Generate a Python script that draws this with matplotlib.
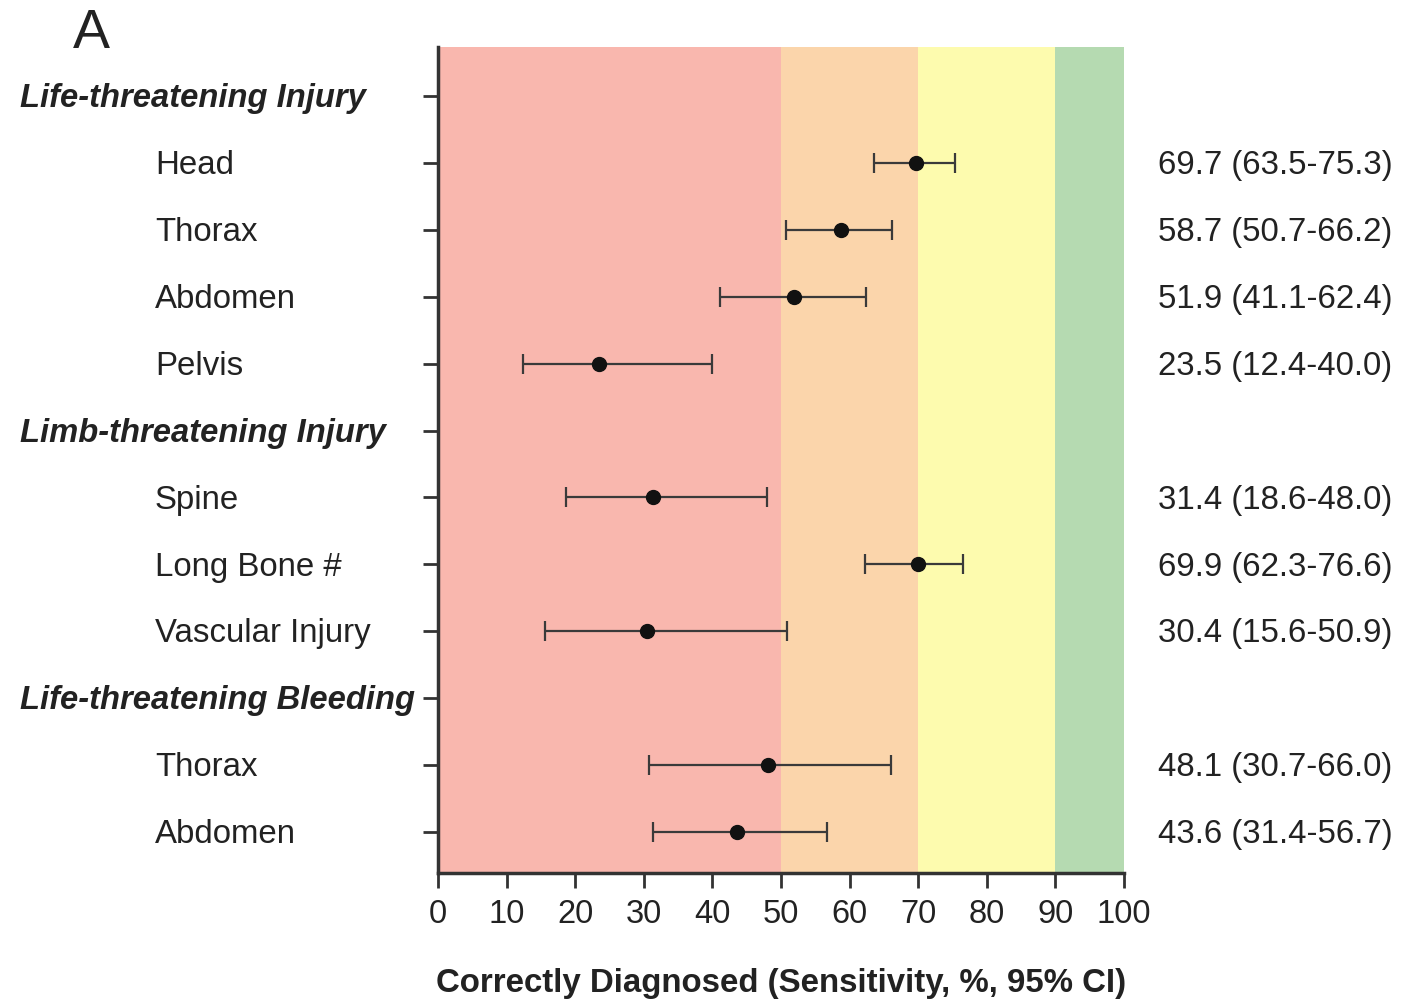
import matplotlib
matplotlib.use("Agg")
import matplotlib.pyplot as plt
from matplotlib.transforms import blended_transform_factory

plt.rcParams['font.family'] = ['Liberation Sans', 'DejaVu Sans']

# Data
row_labels = ["Life-threatening Injury", "Head", "Thorax", "Abdomen", "Pelvis",
              "Limb-threatening Injury", "Spine", "Long Bone #", "Vascular Injury",
              "Life-threatening Bleeding", "Thorax", "Abdomen"]
is_header = [True, False, False, False, False, True, False, False, False, True, False, False]
estimate = [None, 69.7, 58.7, 51.9, 23.5, None, 31.4, 69.9, 30.4, None, 48.1, 43.6]
ci_low = [None, 63.5, 50.7, 41.1, 12.4, None, 18.6, 62.3, 15.6, None, 30.7, 31.4]
ci_high = [None, 75.3, 66.2, 62.4, 40.0, None, 48.0, 76.6, 50.9, None, 66.0, 56.7]
bands = [(0, 50, "#f9b7ae"), (50, 70, "#fbd5ab"), (70, 90, "#fdfbae"), (90, 100, "#b5dab1")]
xticks = [0, 10, 20, 30, 40, 50, 60, 70, 80, 90, 100]

fig = plt.figure(figsize=(14.02, 10.02), dpi=100)
ax = fig.add_axes([438/1402, 1-873/1002, (1124-438)/1402, (873-47)/1002])

for lo, hi, col in bands:
    ax.axvspan(lo, hi, color=col, lw=0, zorder=0)

tr = blended_transform_factory(fig.transFigure, ax.transData)

for i, (e, lo, hi) in enumerate(zip(estimate, ci_low, ci_high)):
    if e is None:
        continue
    ax.errorbar([e], [i], xerr=[[e - lo], [hi - e]], fmt='o', color='#111111',
                ecolor='#3a3a3a', elinewidth=1.6, capsize=7, capthick=1.6,
                markersize=10, zorder=3)
    ax.text(1158/1402, i + 0.04, f"{e:.1f} ({lo:.1f}-{hi:.1f})", transform=tr,
            ha='left', va='center', fontsize=23.8, color='#222222')

ax.set_xlim(0, 100)
ax.set_ylim(11 + 41/66.9, -49/66.9)
ax.set_xticks(xticks)
ax.set_xticklabels([str(t) for t in xticks], fontsize=23.5, color='#222222')
ax.set_yticks(range(len(row_labels)))
ax.set_yticklabels([''] * len(row_labels))
ax.tick_params(axis='both', direction='out', length=11, width=2, color='#333333')
ax.tick_params(axis='x', pad=8)

for s in ['top', 'right']:
    ax.spines[s].set_visible(False)
for s in ['left', 'bottom']:
    ax.spines[s].set_linewidth(2.5)
    ax.spines[s].set_color('#333333')

for i, (lab, h) in enumerate(zip(row_labels, is_header)):
    if h:
        ax.text(20/1402, i + 0.04, lab, transform=tr, ha='left', va='center',
                fontsize=23.6, fontweight='bold', fontstyle='italic', color='#222222')
    else:
        ax.text(155/1402, i + 0.04, lab, transform=tr, ha='left', va='center',
                fontsize=23.8, color='#222222')

ax.set_xlabel("Correctly Diagnosed (Sensitivity, %, 95% CI)", fontsize=23.8,
              fontweight='bold', color='#222222', labelpad=27)

fig.text(73/1402, 1-34/1002, "A", fontsize=40, ha='left', va='center', color='#222222')

fig.savefig("out.png", dpi=100)
